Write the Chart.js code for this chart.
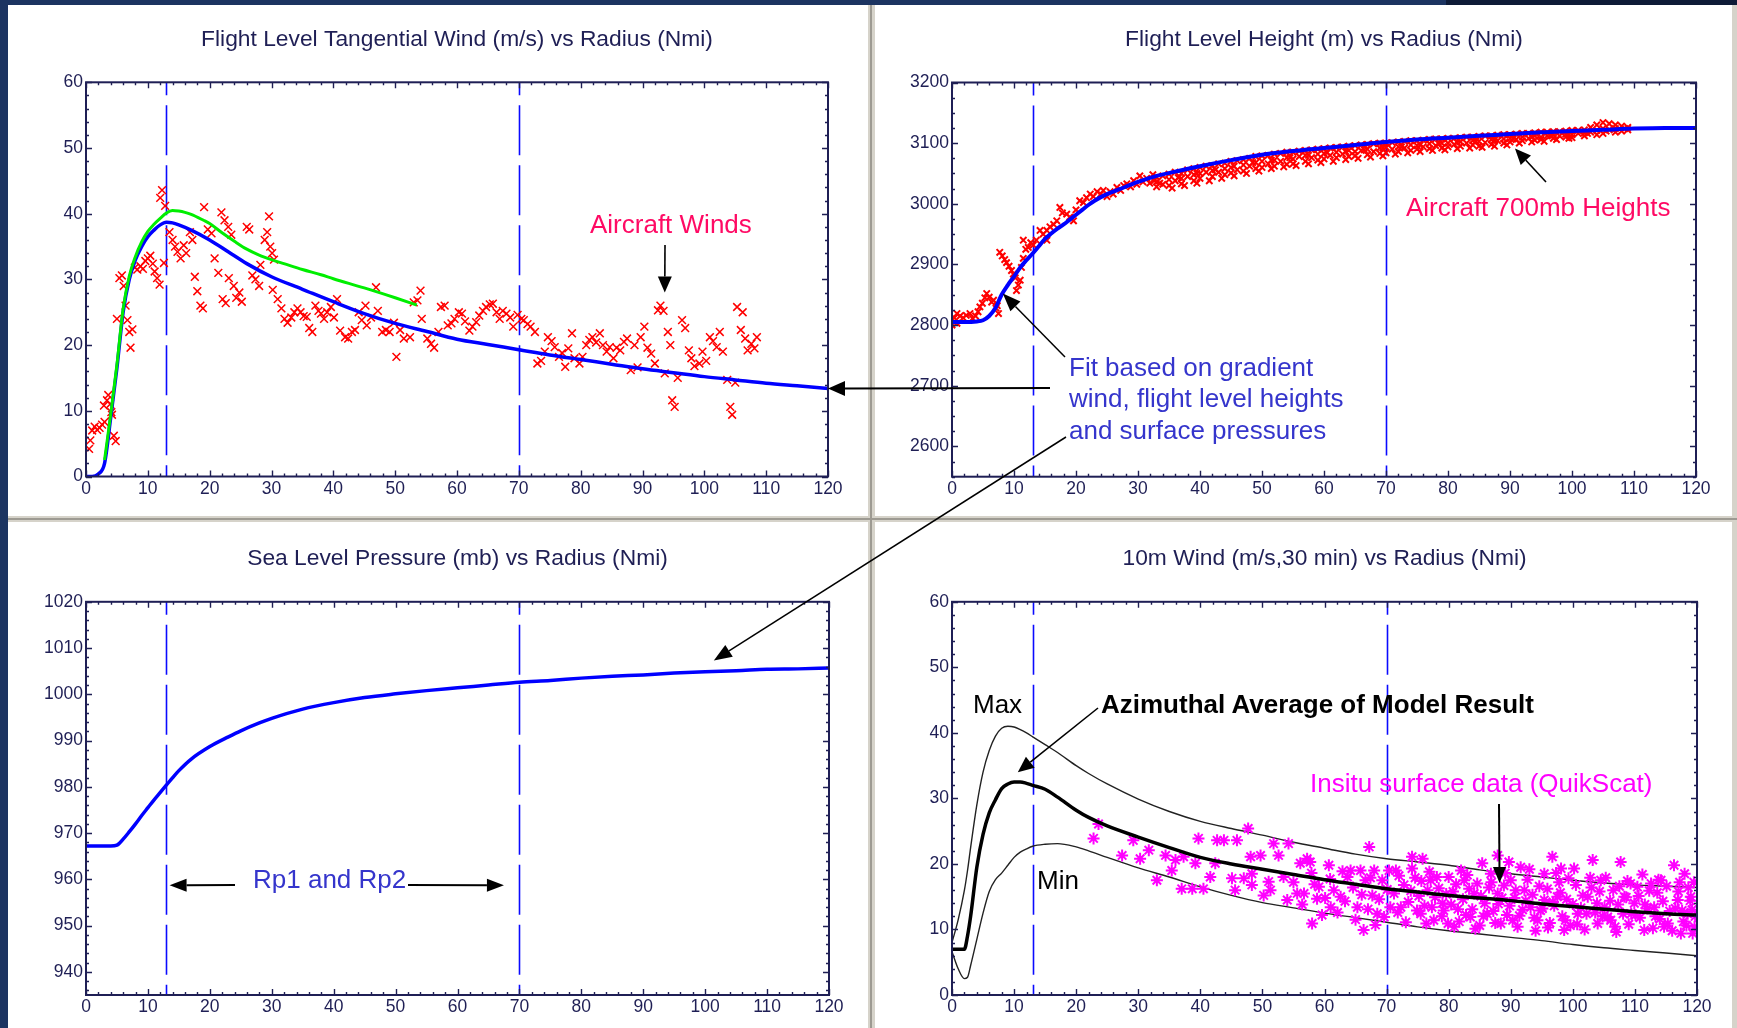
<!DOCTYPE html>
<html>
<head>
<meta charset="utf-8">
<script src="https://cdn.jsdelivr.net/npm/chart.js@4.4.1/dist/chart.umd.min.js"></script>
<style>
  html, body { margin: 0; padding: 0; }
  body { width: 1737px; height: 1028px; position: relative; overflow: hidden; background: #1c3461;
         font-family: "Liberation Sans", Arial, sans-serif; }
  .blk { position: absolute; }
  .panel { position: absolute; background: #ffffff; }
  canvas.chart { position: absolute; z-index: 2; }
  #overlay { position: absolute; left: 0; top: 0; z-index: 5; pointer-events: none; }
  .note { position: absolute; z-index: 6; white-space: nowrap; font-size: 26px; line-height: 26px; }
</style>
</head>
<body>
<!-- window frame -->
<div class="blk" style="left:1446px;top:0;width:291px;height:5px;background:#0e1b37"></div>
<div class="blk" style="left:8px;top:5px;width:1729px;height:1023px;background:#d6d3ca"></div>
<div class="blk" style="left:870px;top:5px;width:2px;height:1023px;background:#9d9a92"></div>
<div class="blk" style="left:8px;top:518px;width:1729px;height:2px;background:#9d9a92"></div>
<div class="panel" style="left:8px;top:5px;width:860px;height:511px"></div>
<div class="panel" style="left:875px;top:5px;width:857px;height:511px"></div>
<div class="panel" style="left:8px;top:522px;width:860px;height:506px"></div>
<div class="panel" style="left:875px;top:522px;width:857px;height:506px"></div>

<canvas id="windChart" class="chart" width="860" height="511" style="left:8px;top:5px"></canvas>
<canvas id="heightChart" class="chart" width="857" height="511" style="left:875px;top:5px"></canvas>
<canvas id="pressureChart" class="chart" width="860" height="506" style="left:8px;top:522px"></canvas>
<canvas id="surfaceChart" class="chart" width="857" height="506" style="left:875px;top:522px"></canvas>
<canvas id="overlay" width="1737" height="1028"></canvas>

<div class="note" style="left:590px;top:211px;color:#ff0a64">Aircraft Winds</div>
<div class="note" style="left:1406px;top:194px;color:#ff0a64">Aircraft 700mb Heights</div>
<div class="note" style="left:1069px;top:352px;line-height:31.3px;color:#3535cc">Fit based on gradient<br>wind, flight level heights<br>and surface pressures</div>
<div class="note" style="left:253px;top:866px;color:#3535cc">Rp1 and Rp2</div>
<div class="note" style="left:973px;top:691px;color:#000">Max</div>
<div class="note" style="left:1101px;top:691px;color:#000;font-weight:bold">Azimuthal Average of Model Result</div>
<div class="note" style="left:1310px;top:770px;color:#ff00ff">Insitu surface data (QuikScat)</div>
<div class="note" style="left:1037px;top:867px;color:#000">Min</div>

<script>
// ---------- axes ----------
const radiusTicks = [0, 10, 20, 30, 40, 50, 60, 70, 80, 90, 100, 110, 120];
const windTicks = [0, 10, 20, 30, 40, 50, 60];
const heightTicks = [2600, 2700, 2800, 2900, 3000, 3100, 3200];
const pressureTicks = [940, 950, 960, 970, 980, 990, 1000, 1010, 1020];
const heightRange = [2550, 3200];
const pressureRange = [935, 1020];
const rpRadii = [13, 70];

const panelTitles = [
  'Flight Level Tangential Wind (m/s) vs Radius (Nmi)',
  'Flight Level Height (m) vs Radius (Nmi)',
  'Sea Level Pressure (mb) vs Radius (Nmi)',
  '10m Wind (m/s,30 min) vs Radius (Nmi)'
];

// ---------- flight level tangential wind ----------
const tlRadius = [0,1,2,3,4,5,6,7,8,9,10,11,12,13,14,15,17,20,23,26,30,35,40,45,50,55,60,65,70,75,80,85,90,95,100,105,110,115,120];
const tlFitWind = [0,0,0.4,2,9,16.5,25,30,33,35,36.5,37.5,38.3,38.7,38.6,38.3,37.5,36,34.2,32.4,30.4,28.5,26.6,24.8,23.3,22.1,20.9,20.1,19.3,18.5,17.8,17.1,16.4,15.8,15.2,14.7,14.2,13.8,13.4];
const tlGreenRadius = [3,4,5,6,7,8,9,10,11,12,13,14,15,16,17,19,20,22,24,26,28,30,32,35,38,40,45,50,53.5];
const tlGreenWind = [2.5,9.5,17,25.5,30.5,33.5,35.7,37.3,38.4,39.3,40.1,40.5,40.4,40.2,39.9,39.0,38.5,37.1,35.8,34.6,33.7,33.0,32.4,31.5,30.7,30.1,28.7,27.2,26.1];
const aircraftWinds = [
  [0.5,4.2],[0.7,5.5],[1.0,7.0],[1.4,7.6],[1.8,7.1],[2.2,7.4],[2.6,7.9],[3.0,8.3],[2.9,10.8],[3.4,11.6],[3.6,12.4],[3.9,11.0],[4.2,9.4],[4.5,6.2],[4.8,5.4],[4.1,9.8],
  [5.0,24.0],[5.4,30.2],[5.8,30.6],[6.1,29.0],[6.4,26.0],[6.7,23.8],[7.0,22.0],[7.2,19.6],[7.5,22.4],[7.9,31.8],[8.3,31.5],[8.8,32.0],[9.2,31.6],[9.6,32.8],[10.0,33.2],[10.4,33.6],[10.8,32.4],[11.1,31.2],[11.5,30.2],[11.9,29.2],[12.0,42.4],[12.3,43.6],[12.8,41.2],[12.6,32.5],
  [13.5,37.2],[14.0,36.0],[14.4,35.0],[14.8,34.2],[15.3,33.2],[15.8,35.2],[16.2,34.0],[16.8,37.2],[17.2,36.0],[17.6,30.4],[18.0,28.2],[18.5,26.0],[18.9,25.6],[19.1,41.0],[19.7,37.6],[20.3,37.0],[20.8,33.2],[21.4,31.0],[21.9,40.2],[22.4,39.0],[22.1,27.0],[22.6,26.4],[23.0,38.0],[23.5,36.8],[23.1,30.2],[23.9,29.0],[24.3,27.2],[24.8,28.0],[25.2,26.6],[26.0,38.0],[26.4,37.6],[26.9,30.6],[27.4,30.0],[28.0,29.0],[28.2,32.2],[28.9,36.0],[29.3,37.2],[29.6,39.6],[29.8,35.0],[30.1,34.0],[30.4,33.0],[30.2,28.4],
  [31.0,27.0],[31.6,25.6],[32.1,24.0],[32.6,23.4],[33.2,24.2],[33.7,25.0],[34.2,25.6],[34.7,25.0],[35.2,24.4],[35.7,24.3],[36.1,22.6],[36.6,22.0],[37.1,26.0],[37.6,25.2],[38.0,24.8],[38.5,24.0],[39.0,25.0],[39.6,25.8],[40.1,24.2],[40.6,27.0],[41.1,22.2],[41.9,21.2],[42.4,21.0],[43.0,22.0],[43.5,22.3],[44.1,25.0],[44.6,23.8],[45.2,26.0],[45.4,23.0],[46.1,24.2],[46.9,28.8],[47.2,25.2],[47.9,22.0],[48.5,22.3],[49.1,22.0],[49.8,23.4],[50.2,18.2],[50.8,22.3],[51.4,21.0],[52.4,21.2],
  [53.0,26.5],[53.6,26.8],[54.1,28.3],[54.3,24.0],[55.2,21.0],[55.8,20.2],[56.3,19.6],[57.0,22.0],[57.4,25.8],[58.0,26.0],[58.5,23.0],[59.1,23.3],[59.6,24.0],[60.3,25.0],[60.8,24.8],[61.3,23.6],[62.0,22.2],[62.5,22.8],[63.1,23.5],[63.6,24.5],[64.2,25.2],[64.7,25.8],[65.3,26.2],[65.8,26.3],[66.4,25.0],[66.9,24.0],[67.4,25.2],[68.0,24.8],[68.6,24.2],[69.1,22.8],[69.8,24.6],[70.4,24.0],[70.8,23.8],[71.4,23.2],[71.9,22.8],[72.6,22.0],
  [73.0,17.2],[73.6,17.6],[74.2,19.0],[74.7,21.2],[75.3,20.6],[75.8,19.7],[76.5,18.2],[77.0,18.8],[77.5,16.7],[78.0,19.5],[78.6,21.8],[79.0,18.0],[79.8,17.2],[80.3,18.2],[80.9,20.0],[81.4,20.8],[81.9,21.2],[82.5,20.4],[83.1,21.8],[83.6,20.0],[84.2,19.0],[84.7,19.7],[85.3,18.0],[85.8,19.6],[86.4,19.2],[87.0,20.5],[87.5,21.0],[88.1,16.2],[88.7,20.0],[89.2,16.6],[89.7,21.2],[90.3,22.8],[90.8,19.6],[91.4,18.7],[92.0,17.2],
  [92.5,25.3],[92.9,26.0],[93.4,25.2],[93.6,15.7],[94.1,22.0],[94.5,20.0],[94.8,11.6],[95.2,10.6],[95.7,15.0],[96.4,23.8],[96.9,22.6],[97.5,19.2],[97.9,18.0],[98.4,16.8],[99.2,17.2],[99.7,19.0],[100.3,17.6],[100.9,21.2],[101.4,20.6],[102.0,19.7],[102.5,22.0],[103.0,19.0],[103.7,14.7],[104.2,10.6],[104.5,9.4],[105.0,14.3],[105.3,25.8],[105.9,22.3],[106.2,25.0],[106.6,21.0],[107.0,19.2],[107.6,20.2],[108.1,19.5],[108.5,21.2]
];

// ---------- flight level height ----------
const trRadius = [0,2,4,5,6,7,8,9,10,11,12,13,14,15,16,17,18,19,20,21,22,23,24,25,27,30,33,36,40,45,50,55,60,65,70,75,80,85,90,95,100,105,110,115,120];
const trFitHeight = [2805,2805,2806,2808,2815,2828,2850,2866,2880,2895,2907,2918,2930,2942,2951,2959,2966,2974,2982,2990,2998,3005,3011,3016,3024,3036,3046,3053,3062,3072,3081,3087,3092,3097,3102,3106,3109,3112,3115,3118,3120,3122,3124,3125,3125];
const aircraftHeights = [
  [0.0,2800],[0.4,2812],[0.8,2819],[0.8,2803],[1.3,2815],[1.8,2812],[2.3,2816],[2.9,2819],[3.3,2811],[3.8,2815],[4.2,2822],[4.5,2830],[4.9,2836],[5.3,2845],[5.6,2852],[6.0,2846],[6.4,2838],[6.7,2841],[7.1,2828],[7.5,2819],[7.3,2832],
  [7.7,2920],[8.1,2914],[8.5,2908],[8.8,2903],[9.2,2897],[9.6,2890],[9.9,2884],[10.2,2878],[10.4,2857],[10.7,2866],[11.0,2874],[11.2,2895],[11.5,2910],[11.5,2940],[11.9,2925],[12.3,2928],[12.7,2936],[13.1,2932],[13.6,2940],[14.2,2956],[14.7,2950],[15.3,2956],[15.3,2940],[15.8,2962],[16.4,2966],[16.9,2972],[17.4,2994],[17.8,2985],[18.5,2983],[19.0,2978],[19.6,2972],[20.0,2990],[20.6,3005],[21.2,3002],[21.7,3010],[22.3,3016],[22.8,3012],[23.4,3020],[24.0,3016],[24.4,3022],[25.0,3012],[25.5,3020],[26.0,3016],[26.6,3027],[27.2,3022],[27.7,3030],[28.2,3033],[28.8,3028],[29.3,3038],[29.8,3032],[30.3,3046],[30.8,3036],[31.4,3042],[31.9,3034],[32.4,3048],[32.6,3038],
  [33,3044],[33,3036],[33,3028],[34,3046],[34,3032],[35,3049],[35,3040],[35,3030],[36,3052],[36,3038],[37,3050],[37,3042],[37,3033],[38,3056],[38,3045],[39,3058],[39,3048],[39,3038],[40,3060],[40,3050],[40,3042],[41,3062],[41,3052],[42,3063],[42,3055],[42,3045],[43,3066],[43,3052],[44,3067],[44,3058],[44,3048],[45,3070],[45,3060],[45,3051],[46,3071],[46,3056],[47,3073],[47,3064],[47,3054],[48,3075],[48,3062],[49,3078],[49,3068],[49,3058],[50,3079],[50,3070],[50,3060],[51,3080],[51,3066],[52,3082],[52,3072],[52,3062],[53,3083],[53,3070],[54,3085],[54,3076],[54,3065],[55,3085],[55,3074],[55,3066],[56,3087],[56,3078],[57,3088],[57,3080],[57,3070],[58,3089],[58,3076],[59,3090],[59,3082],[59,3072],[60,3091],[60,3083],[60,3074],[61,3092],[61,3080],[62,3093],[62,3085],[62,3076],[63,3094],[63,3082],[64,3095],[64,3088],[64,3078],[65,3096],[65,3086],[65,3079],[66,3097],[66,3088],[67,3098],[67,3090],[67,3081],[68,3099],[68,3086],[69,3100],[69,3092],[69,3083],[70,3100],[70,3093],[70,3084],
  [71,3101],[71,3090],[72,3102],[72,3094],[72,3086],[73,3103],[73,3092],[74,3104],[74,3097],[74,3088],[75,3104],[75,3096],[75,3090],[76,3105],[76,3094],[77,3106],[77,3099],[77,3091],[78,3107],[78,3096],[79,3107],[79,3100],[79,3092],[80,3108],[80,3100],[80,3094],[81,3108],[81,3098],[82,3109],[82,3102],[82,3095],[83,3110],[83,3100],[84,3110],[84,3104],[84,3097],[85,3111],[85,3103],[85,3095],[86,3112],[86,3101],[87,3112],[87,3106],[87,3098],[88,3113],[88,3104],[89,3114],[89,3107],[89,3100],[90,3114],[90,3108],[90,3102],
  [91,3115],[91,3106],[92,3116],[92,3110],[92,3104],[93,3116],[93,3108],[94,3117],[94,3112],[94,3105],[95,3118],[95,3110],[95,3106],[96,3118],[96,3112],[97,3119],[97,3114],[97,3108],[98,3119],[98,3112],[99,3120],[99,3115],[99,3110],[100,3121],[100,3114],[100,3109],[101,3121],[101,3116],[102,3122],[102,3117],[102,3112],[103,3126],[103,3118],[104,3130],[104,3121],[104,3114],[105,3134],[105,3124],[105,3116],[106,3132],[106,3122],[107,3130],[107,3124],[107,3118],[108,3128],[108,3120],[109,3126],[109,3122],
  [35.5,3026],[37.5,3030],[39.5,3034],[41.5,3038],[43.5,3042],[45.5,3046],[47.5,3050],[49.5,3054],[51.5,3058],[53.5,3061],[55.5,3063],[57.5,3066],[59.5,3068],[61.5,3070],[63.5,3073],[65.5,3075],[67.5,3077],[69.5,3079],[71.5,3082],[73.5,3084],[75.5,3086],[77.5,3088],[79.5,3089],[81.5,3091],[83.5,3092],[85.5,3093],[87.5,3095],[89.5,3097],[91.5,3100],[93.5,3102],[95.5,3103],[97.5,3106],[99.5,3108],
  [33.5,3034],[36.5,3043],[39.5,3050],[42.5,3056],[45.5,3062],[48.5,3068],[51.5,3072],[54.5,3076],[57.5,3080],[60.5,3084],[63.5,3086],[66.5,3089],[69.5,3092],[72.5,3094],[75.5,3097],[78.5,3099],[81.5,3101],[84.5,3103],[87.5,3105],[90.5,3107],[93.5,3110],[96.5,3112],[99.5,3114],[102.5,3116],[105.5,3120],[108.5,3124]
];

// ---------- sea level pressure ----------
const blRadius = [0,2,4,5,6,7,8,9,10,11,12,13,14,15,17,20,23,25,28,30,35,40,45,50,55,60,65,70,75,80,85,90,95,100,105,110,115,120];
const blPressure = [967.2,967.2,967.2,967.4,968.7,970.3,972.0,973.8,975.5,977.2,978.8,980.4,982.0,983.5,986.0,988.7,990.8,992.1,993.8,994.8,996.8,998.2,999.3,1000.1,1000.8,1001.4,1002,1002.6,1003,1003.5,1003.9,1004.2,1004.6,1004.9,1005.1,1005.4,1005.5,1005.7];

// ---------- 10 m wind ----------
const brRadius = [0,1,2,2.5,3,4,5,6,7,8,9,10,11,12,13,15,17,20,22,25,30,35,40,45,50,55,60,65,70,75,80,85,90,95,100,105,110,115,120];
const brAvgWind = [7,7,7,9,12,19.5,24.5,27.8,29.8,31.5,32.2,32.5,32.5,32.3,32.0,31.4,30.2,28.2,27.1,25.8,24.1,22.5,21,20,19.2,18.4,17.6,16.9,16.2,15.7,15.2,14.8,14.4,13.9,13.5,13.1,12.7,12.4,12.2];
const brMaxWind = [8,11.5,16,19,22.5,29,34,37.3,39.5,40.7,41,40.9,40.5,40,39.4,38.2,37,35,33.8,32.2,29.9,28,26.5,25.4,24.4,23.3,22.4,21.5,20.8,20.3,19.8,19.1,18.5,18,17.5,17.1,16.8,16.6,16.4];
const brMinWind = [6.6,4,2.5,2.7,4.5,8.5,12.5,15.8,17.6,18.6,19.8,21,21.8,22.3,22.7,23,23.1,22.6,22,21,19.4,18,16.5,15.2,14.1,13.3,12.5,11.8,11.1,10.4,9.8,9.3,8.8,8.3,7.7,7.2,6.8,6.4,6.0];
const quikScat = [
  [22.8,23.9],[23.6,26.1],[27.4,21.3],[29.2,23.6],[30.3,20.8],[31.7,22.1],[33.0,17.5],[34.4,21.3],[35.4,19.0],[36.0,20.6],[37.0,16.2],[37.3,21.1],[38.7,16.2],[39.2,20.1],[39.7,23.9],[40.5,16.2],[41.6,18.0],[42.4,20.1],[42.7,23.6],[43.8,23.6],[45.1,17.8],[45.6,16.0],[45.9,23.6],[47.0,17.8],[47.7,25.4],[48.1,21.1],[48.3,18.5],[48.3,16.8],[49.7,21.3],[50.2,15.2],[51.0,17.3],[51.3,16.0],[51.8,23.1],[52.6,21.3],[53.4,18.0],[54.0,14.5],[54.2,23.1],[55.6,15.5],[56.1,20.1],[56.7,15.5],[57.2,20.8],[57.7,20.3],[58.0,10.9],[58.8,14.7],[59.1,16.5],[59.6,12.2],[60.7,19.8],[61.0,13.4],[61.5,16.0],[62.6,15.0],[63.7,18.0],[64.2,19.0],[65.3,13.4],[65.8,19.0],[66.3,9.9],[66.6,17.5],[67.2,22.6],[67.7,15.2],[68.0,19.0],[68.2,10.7],[68.5,12.4],[69.3,17.5],[70.4,19.0],[70.6,13.4],[71.2,15.5],
  [71.5,19.0],[72.3,13.4],[74.1,21.1],[74.1,19.3],[75.8,20.8],[76.6,16.0],[77.1,17.5],[75.5,12.4],[77.6,11.4],[79.2,12.9],[80.0,18.0],[80.9,10.4],[82.5,17.5],[83.5,11.9],[84.1,15.5],[85.4,20.1],[86.2,12.4],[86.8,18.5],[87.9,21.3],[87.9,15.5],[88.4,10.9],[89.7,20.3],[90.0,17.5],[90.3,11.4],[91.6,19.5],[92.2,16.0],[93.2,13.4],[94.3,11.4],[95.4,18.5],[95.4,14.5],[96.7,21.1],[97.5,15.0],[98.1,19.3],[98.6,9.9],[100.2,19.3],[100.8,12.4],[102.4,15.0],[103.2,20.6],[104.0,10.9],[104.5,17.5],[105.1,13.4],[106.1,11.4],[107.7,20.3],[108.3,15.0],[109.4,12.4],[110.4,16.5],[111.5,9.9],[112.6,17.0],[113.1,13.4],[114.2,17.5],[114.7,10.4],[116.3,19.8],[116.9,14.5],[117.4,9.4],[118.0,18.5],[118.5,12.4],[119.0,15.0],[119.3,9.4],
  [72.8,16.8],[73.5,14.2],[74.6,17.9],[75.2,15.1],[76.1,13.6],[76.9,18.8],[77.8,14.9],[78.4,16.3],[78.9,12.0],[79.6,15.4],[80.4,13.8],[81.2,16.9],[81.7,11.2],[82.3,14.6],[83.0,18.3],[83.8,13.1],[84.6,17.0],[85.0,10.6],[85.8,14.0],[86.5,16.4],[87.2,12.8],[88.0,13.9],[88.9,16.7],[89.4,12.2],[90.6,14.8],[91.1,10.4],[91.9,13.0],[92.7,17.6],[93.5,15.3],[94.0,9.8],[94.8,12.9],[95.9,16.2],[96.3,11.0],[97.0,13.6],[97.8,17.2],[98.3,12.0],[99.0,14.6],[99.6,10.6],[100.5,16.8],[101.3,13.3],[101.9,10.0],[102.8,17.9],[103.6,12.6],[104.3,15.8],[105.6,11.9],[106.5,16.0],[107.0,9.6],[107.3,13.8],[108.8,17.4],[109.0,10.8],[109.9,14.0],[110.8,11.8],[111.2,18.4],[112.0,13.2],[112.9,10.2],[113.6,15.6],[114.0,11.6],[115.1,16.6],[115.6,12.8],[116.0,9.8],[117.0,15.8],[117.8,11.2],[118.6,16.4],[119.2,13.0],[119.6,10.4],
  [55.0,17.2],[56.4,13.8],[57.9,18.6],[58.4,16.9],[60.1,14.8],[60.9,17.7],[62.1,12.6],[62.9,18.9],[63.3,14.3],[64.6,16.4],[65.0,11.5],[66.0,15.3],[67.0,13.1],[67.4,17.9],[68.8,14.6],[69.6,11.9],[70.1,16.1],[71.8,12.6],[72.0,18.2],[73.1,11.1],[73.9,15.9],[74.9,12.9],[75.6,17.4],[76.4,10.9],[77.3,13.4],[78.1,18.0],[79.0,14.0],[79.9,10.9],[80.7,15.8],[81.5,13.1],[82.0,19.0],[82.8,12.2],[83.3,16.2],[84.3,10.1],[85.2,15.1],[85.6,12.0],[86.9,17.2],[87.5,11.0],[88.6,14.8],[89.1,18.6],[89.8,13.6],[90.8,16.0],[91.4,12.1],[92.4,14.4],[93.0,19.2],[93.8,11.8],[94.6,16.6],[95.1,13.2],[96.0,10.3],[96.8,14.2],[97.3,18.6],[98.0,15.6],[98.8,11.4],[99.3,17.8],[100.0,13.9],[100.7,10.8],[101.6,15.2],[102.2,12.4],[103.0,16.4],[103.9,14.0],[104.8,12.0],[105.3,17.9],[106.0,14.4],[106.8,10.4],[107.5,16.6],[108.1,12.4],[108.6,14.9],[109.3,17.0],[110.1,12.2],[110.6,15.1],[111.6,13.8],[112.3,15.9],[113.3,12.0],[113.8,17.6],[114.5,14.3],[115.3,10.9],[116.5,13.2],[117.2,17.2],[117.6,12.9],[118.3,10.6],[118.9,14.4],[119.5,17.2],[119.7,12.0]
];

// ---------- drawing ----------
const NAVY = '#1f1f55';
Chart.defaults.font.family = '"Liberation Sans", Arial, sans-serif';
Chart.defaults.color = NAVY;

const toPoints = (xs, ys) => xs.map((x, i) => ({x, y: ys[i]}));
const pairPoints = arr => arr.map(([x, y]) => ({x, y}));

// boxed axes with inward major/minor ticks and the Rp1/Rp2 radius markers
const boxedAxes = {
  id: 'boxedAxes',
  beforeDatasetsDraw(chart) {
    const {ctx, chartArea: a, scales: {x}} = chart;
    ctx.save();
    ctx.strokeStyle = '#0a0aff';
    ctx.lineWidth = 1.6;
    ctx.setLineDash([50, 10]);
    ctx.lineDashOffset = 37;
    rpRadii.forEach(r => {
      const px = Math.round(x.getPixelForValue(r)) + 0.5;
      ctx.beginPath(); ctx.moveTo(px, a.top); ctx.lineTo(px, a.bottom); ctx.stroke();
    });
    ctx.restore();
  },
  afterDatasetsDraw(chart, args, opts) {
    const {ctx, chartArea: a, scales: {x, y}} = chart;
    ctx.save();
    ctx.strokeStyle = NAVY;
    ctx.lineWidth = 1.4;
    ctx.beginPath();
    const xMajor = new Set(x.ticks.map(t => t.value));
    for (let v = x.min; v <= x.max + 1e-9; v += opts.minorX) {
      const px = Math.round(x.getPixelForValue(v)) + 0.5;
      const len = xMajor.has(v) ? 6 : 3;
      ctx.moveTo(px, a.bottom); ctx.lineTo(px, a.bottom - len);
      ctx.moveTo(px, a.top); ctx.lineTo(px, a.top + len);
    }
    const yMajor = new Set(y.ticks.map(t => t.value));
    for (let v = Math.ceil(y.min / opts.minorY) * opts.minorY; v <= y.max + 1e-9; v += opts.minorY) {
      const py = Math.round(y.getPixelForValue(v)) + 0.5;
      const len = yMajor.has(v) ? 6 : 3;
      ctx.moveTo(a.left, py); ctx.lineTo(a.left + len, py);
      ctx.moveTo(a.right, py); ctx.lineTo(a.right - len, py);
    }
    ctx.stroke();
    ctx.lineWidth = 2;
    ctx.strokeRect(a.left, a.top, a.right - a.left, a.bottom - a.top);
    ctx.restore();
  }
};

function makeOptions(p) {
  return {
    responsive: false,
    animation: false,
    devicePixelRatio: 1,
    events: [],
    layout: {padding: {left: p.padL, right: p.padR, top: 0, bottom: p.padB}},
    plugins: {
      legend: {display: false},
      tooltip: {enabled: false},
      title: {
        display: true, text: p.title, fullSize: false, color: NAVY,
        font: {size: 22.8, weight: 'normal', lineHeight: 1},
        padding: {top: p.titleTop, bottom: p.titleBottom}
      },
      boxedAxes: {minorX: 2, minorY: p.minorY}
    },
    scales: {
      x: {
        type: 'linear', min: 0, max: 120,
        afterBuildTicks: s => { s.ticks = radiusTicks.map(v => ({value: v})); },
        afterFit: s => { s.height = 30; },
        grid: {display: false, drawTicks: false}, border: {display: false},
        ticks: {padding: 2, color: NAVY, font: {size: 17.5}, maxRotation: 0, autoSkip: false, callback: v => String(v)}
      },
      y: {
        type: 'linear', min: p.yMin, max: p.yMax,
        afterBuildTicks: s => { s.ticks = p.yTicks.map(v => ({value: v})); },
        afterFit: s => { s.width = p.yWidth; },
        grid: {display: false, drawTicks: false}, border: {display: false},
        ticks: {padding: 3, color: NAVY, font: {size: 17.5}, autoSkip: false, callback: v => String(v)}
      }
    }
  };
}

const lineStyle = (color, width) => ({
  showLine: true, borderColor: color, backgroundColor: color, borderWidth: width,
  pointRadius: 0, tension: 0.4, cubicInterpolationMode: 'monotone', fill: false
});

const windChart = new Chart(document.getElementById('windChart'), {
  type: 'scatter',
  data: {datasets: [
    Object.assign({label: 'Fit (upper)', data: toPoints(tlGreenRadius, tlGreenWind)}, lineStyle('#00ee00', 3)),
    Object.assign({label: 'Gradient wind fit', data: toPoints(tlRadius, tlFitWind)}, lineStyle('#0000ff', 3.5)),
    {label: 'Aircraft Winds', data: pairPoints(aircraftWinds), pointStyle: 'crossRot', pointRadius: 5.5,
     borderColor: '#ff0000', backgroundColor: '#ff0000', borderWidth: 1.5}
  ]},
  options: makeOptions({title: panelTitles[0], padL: 28, padR: 40, padB: 9.5, yWidth: 50,
    titleTop: 23, titleBottom: 31.5, yMin: 0, yMax: 60, yTicks: windTicks, minorY: 2}),
  plugins: [boxedAxes]
});

const heightChart = new Chart(document.getElementById('heightChart'), {
  type: 'scatter',
  data: {datasets: [
    Object.assign({label: 'Height fit', data: toPoints(trRadius, trFitHeight)}, lineStyle('#0000ff', 4)),
    {label: 'Aircraft 700mb Heights', data: pairPoints(aircraftHeights), pointStyle: 'crossRot', pointRadius: 4.5,
     borderColor: '#ff0000', backgroundColor: '#ff0000', borderWidth: 2}
  ]},
  options: makeOptions({title: panelTitles[1], padL: 17, padR: 36, padB: 9.3, yWidth: 60,
    titleTop: 23, titleBottom: 31.7, yMin: heightRange[0], yMax: heightRange[1], yTicks: heightTicks, minorY: 25}),
  plugins: [boxedAxes]
});

const pressureChart = new Chart(document.getElementById('pressureChart'), {
  type: 'scatter',
  data: {datasets: [
    Object.assign({label: 'Sea level pressure', data: toPoints(blRadius, blPressure)}, lineStyle('#0000ff', 3.5))
  ]},
  options: makeOptions({title: panelTitles[2], padL: 18, padR: 39, padB: 3, yWidth: 60,
    titleTop: 25, titleBottom: 32, yMin: pressureRange[0], yMax: pressureRange[1], yTicks: pressureTicks, minorY: 2}),
  plugins: [boxedAxes]
});

const surfaceChart = new Chart(document.getElementById('surfaceChart'), {
  type: 'scatter',
  data: {datasets: [
    Object.assign({label: 'Azimuthal average', data: toPoints(brRadius, brAvgWind)}, lineStyle('#000000', 3.5)),
    {label: 'QuikScat', data: pairPoints(quikScat), pointStyle: 'star', pointRadius: 6,
     borderColor: '#ff00ff', backgroundColor: '#ff00ff', borderWidth: 2},
    Object.assign({label: 'Max', data: toPoints(brRadius, brMaxWind)}, lineStyle('#222222', 1.4)),
    Object.assign({label: 'Min', data: toPoints(brRadius, brMinWind)}, lineStyle('#222222', 1.4))
  ]},
  options: makeOptions({title: panelTitles[3], padL: 27, padR: 35, padB: 3, yWidth: 50,
    titleTop: 25, titleBottom: 32, yMin: 0, yMax: 60, yTicks: windTicks, minorY: 2}),
  plugins: [boxedAxes]
});

// ---------- annotation arrows (tails on the page, heads at data positions) ----------
function dataToPage(chart, xv, yv) {
  const c = chart.canvas;
  return [c.offsetLeft + chart.scales.x.getPixelForValue(xv), c.offsetTop + chart.scales.y.getPixelForValue(yv)];
}
const arrows = [
  {tail: [665, 245], chart: windChart, at: [93.6, 28.0], head: 16, half: 7, width: 1.6},
  {tail: [1546, 182], chart: heightChart, at: [90.8, 3091], head: 16, half: 7, width: 1.6},
  {tail: [1065, 357], chart: heightChart, at: [8.2, 2852], head: 18, half: 7, width: 1.5},
  {tail: [1050, 388], chart: windChart, at: [120, 13.4], head: 17, half: 7.5, width: 2},
  {tail: [1066, 437], chart: pressureChart, at: [101.4, 1007.3], head: 18, half: 7, width: 1.5},
  {tail: [235, 885], chart: pressureChart, at: [13.5, 958.7], head: 17, half: 6.5, width: 2},
  {tail: [408, 885], chart: pressureChart, at: [67.5, 958.7], head: 17, half: 6.5, width: 2},
  {tail: [1098, 708], chart: surfaceChart, at: [10.6, 34], head: 16, half: 7, width: 1.6},
  {tail: [1499, 804], chart: surfaceChart, at: [88.2, 17.1], head: 16, half: 6.5, width: 2}
];
const octx = document.getElementById('overlay').getContext('2d');
octx.strokeStyle = '#000';
octx.fillStyle = '#000';
arrows.forEach(a => {
  const [x0, y0] = a.tail;
  const [x1, y1] = dataToPage(a.chart, a.at[0], a.at[1]);
  const ang = Math.atan2(y1 - y0, x1 - x0);
  const bx = x1 - a.head * Math.cos(ang), by = y1 - a.head * Math.sin(ang);
  octx.lineWidth = a.width;
  octx.beginPath(); octx.moveTo(x0, y0); octx.lineTo(bx, by); octx.stroke();
  octx.beginPath();
  octx.moveTo(x1, y1);
  octx.lineTo(bx + a.half * Math.sin(ang), by - a.half * Math.cos(ang));
  octx.lineTo(bx - a.half * Math.sin(ang), by + a.half * Math.cos(ang));
  octx.closePath(); octx.fill();
});
</script>
</body>
</html>
